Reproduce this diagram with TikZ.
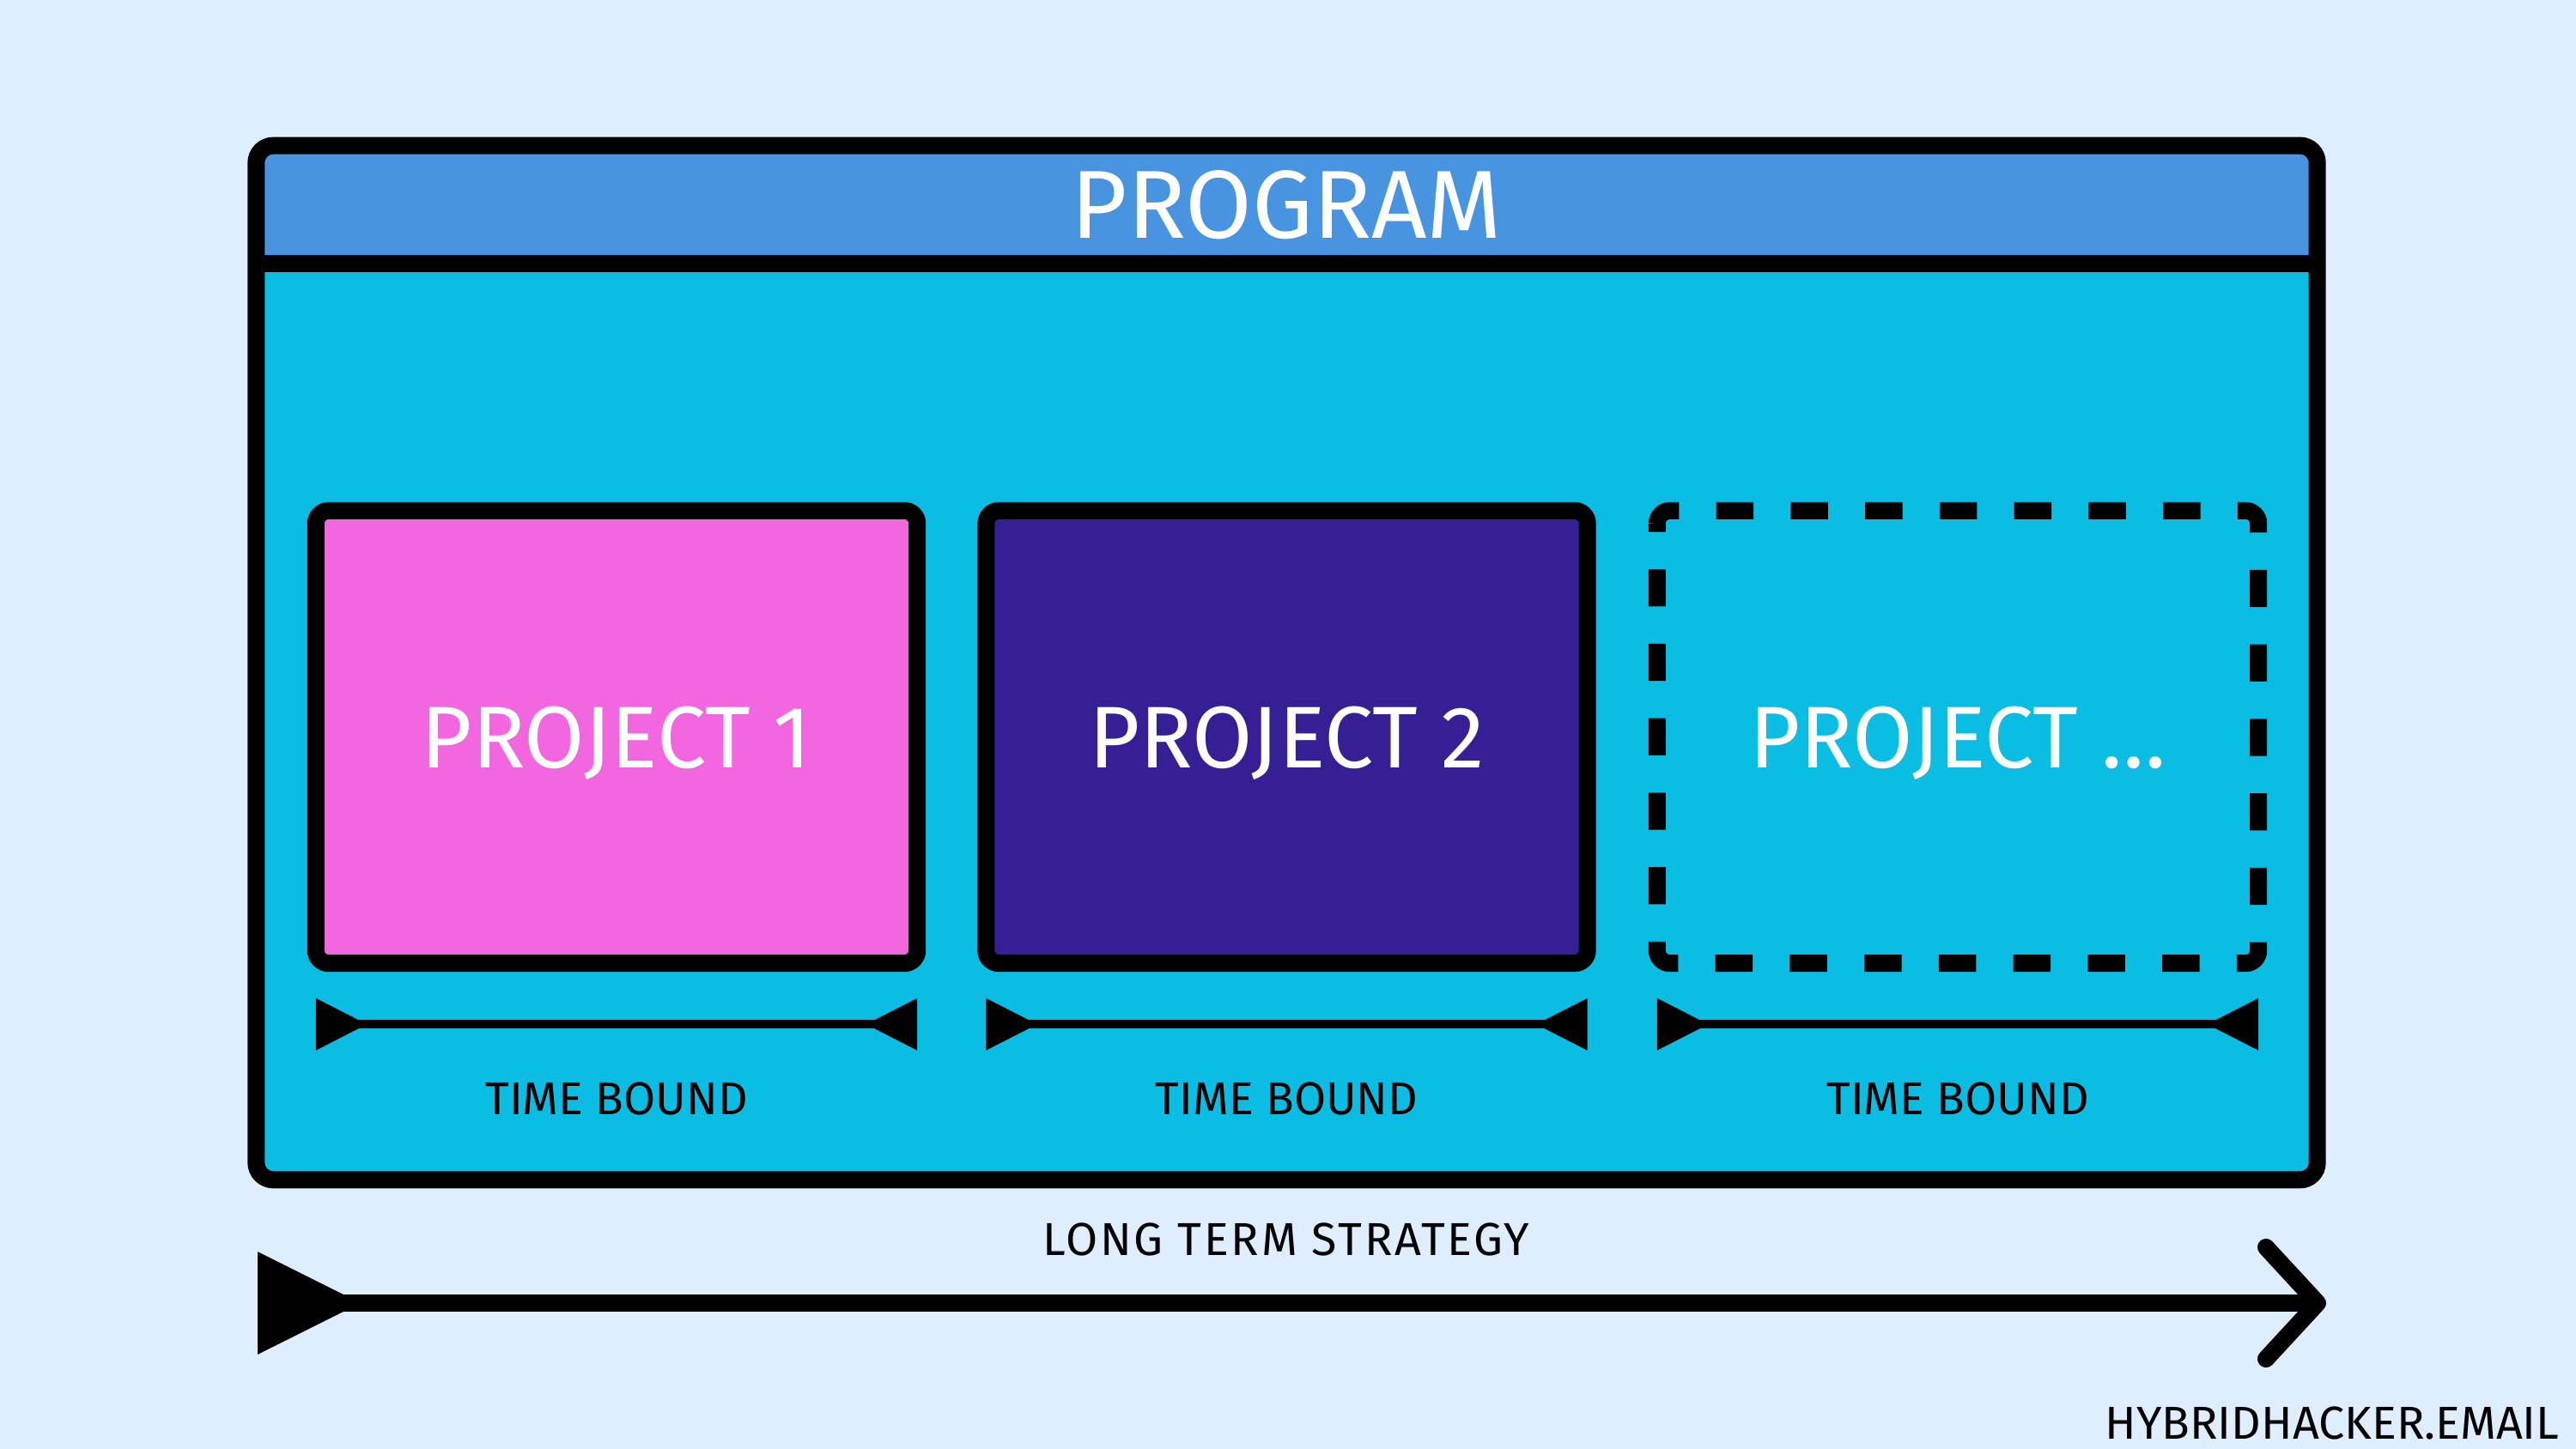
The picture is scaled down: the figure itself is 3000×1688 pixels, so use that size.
\documentclass[tikz,border=0pt]{standalone}
\usepackage{fontspec}
\setmainfont{Fira Sans}
\usetikzlibrary{arrows.meta,positioning}
\definecolor{PaleSky}{RGB}{223,238,255}
\definecolor{HeadBlue}{RGB}{72,148,225}
\definecolor{FrameCyan}{RGB}{11,188,227}
\definecolor{ProjPink}{RGB}{242,102,224}
\definecolor{ProjIndigo}{RGB}{52,31,148}

\begin{document}
\begin{tikzpicture}[x=0.01cm,y=-0.01cm,>=Latex,
    frame/.style={draw,line width=2mm,rounded corners=2mm,outer sep=0pt},
    projbox/.style={draw,line width=2mm,rounded corners=1.5mm,outer sep=0pt,
      minimum width=7cm,minimum height=5.27cm,text=white,text depth=0pt,
      font=\fontsize{29}{29}\selectfont},
    timebar/.style={line width=1mm,
      {Triangle[reversed,length=6mm,width=5.8mm]}-{Triangle[reversed,length=6mm,width=5.8mm]}},
    small/.style={font=\fontsize{15.3}{16}\selectfont}]
  \useasboundingbox[fill=PaleSky] (0,0) rectangle (3000,1688);
  \node[frame,fill=FrameCyan,minimum width=23.99cm,minimum height=12.04cm,
    path picture={\fill[HeadBlue] (path picture bounding box.north west)
      rectangle ([yshift=-1.37cm]path picture bounding box.north east);}]
    (prog) at (1498.5,772) {};
  \draw[line width=2mm] ([yshift=-1.37cm]prog.north west) -- ([yshift=-1.37cm]prog.north east);
  \node[text=white,font=\fontsize{32}{32}\selectfont] (title) at (1498.5,238.5) {PROGRAM};

  \node[projbox,fill=ProjPink] (p1) at (718,858.5) {PROJECT 1};
  \node[projbox,fill=ProjIndigo] (p2) at (1498.5,858.5) {PROJECT 2};
  \node[projbox,draw=none] (p3) at (2280,858.5) {PROJECT \dots};
  \draw[line width=2mm,rounded corners=1.5mm,dash pattern=on 4.335mm off 4.335mm,dash phase=3.35mm]
    (p3.north west) rectangle (p3.south east);

  \draw[timebar] ([yshift=-0.71cm]p1.south west) -- ([yshift=-0.71cm]p1.south east);
  \draw[timebar] ([yshift=-0.71cm]p2.south west) -- ([yshift=-0.71cm]p2.south east);
  \draw[timebar] ([yshift=-0.71cm]p3.south west) -- ([yshift=-0.71cm]p3.south east);
  \node[small] (tb1) at ([yshift=-1.58cm]p1.south) {TIME BOUND};
  \node[small] (tb2) at ([yshift=-1.58cm]p2.south) {TIME BOUND};
  \node[small] (tb3) at ([yshift=-1.58cm]p3.south) {TIME BOUND};

  \coordinate (start) at (300,1518);
  \coordinate (finish) at (2709,1518);
  \draw[line width=2mm,{Triangle[reversed,length=12.1mm,width=11.4mm]}-{Straight Barb[length=6mm,width=13mm,round]}]
    (start) -- (finish);
  \node[small] (strat) at (1498,1444) {\addfontfeature{LetterSpace=5}LONG TERM STRATEGY};
  \node[small,anchor=east] (site) at (2993,1658) {HYBRIDHACKER.EMAIL};
\end{tikzpicture}
\end{document}
